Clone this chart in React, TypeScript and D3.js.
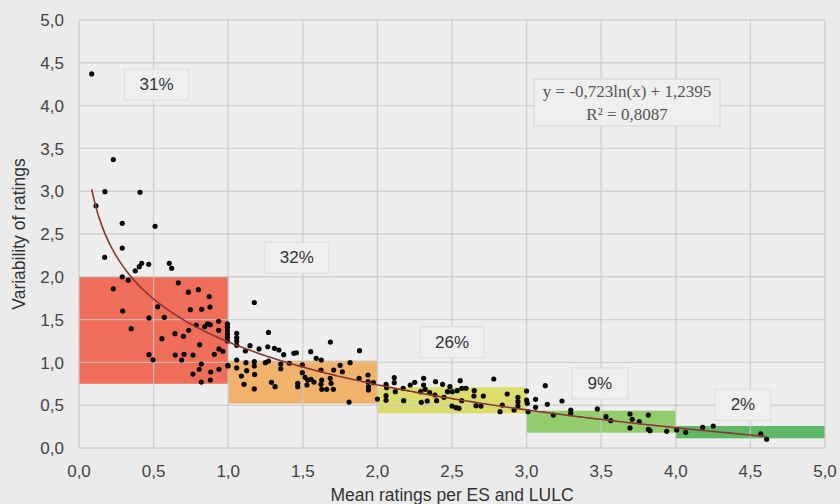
import React from "react";
import * as d3 from "d3";

// ---------- data ----------
const xTicks = [0, 0.5, 1, 1.5, 2, 2.5, 3, 3.5, 4, 4.5, 5];
const yTicks = [0, 0.5, 1, 1.5, 2, 2.5, 3, 3.5, 4, 4.5, 5];

// classes (mean-rating bands) and their variability ranges
const bandFrom = [0, 1, 2, 3, 4];
const bandTo = [1, 2, 3, 4, 5];
const bandLow = [0.75, 0.52, 0.405, 0.18, 0.113];
const bandHigh = [2.0, 1.02, 0.71, 0.436, 0.257];
const bandShare = ["31%", "32%", "26%", "9%", "2%"];
// label anchor (data units)
const shareX = [0.52, 1.46, 2.50, 3.49, 4.45];
const shareY = [4.25, 2.23, 1.24, 0.76, 0.51];

// scatter: mean rating (x) / variability (y)
const points: [number, number][] = [
  [0.085, 4.37], [0.174, 2.995], [0.409, 2.987], [0.114, 2.83], [0.23, 3.37],
  [0.29, 2.625], [0.51, 2.59], [0.29, 2.336], [0.172, 2.228], [0.42, 2.158],
  [0.404, 2.118], [0.467, 2.146], [0.377, 2.07], [0.605, 2.158], [0.621, 2.1],
  [0.29, 2.0], [0.33, 1.96], [0.23, 1.86], [0.666, 1.93], [0.8, 1.85],
  [0.733, 1.82], [0.873, 1.77], [0.293, 1.6], [0.527, 1.65], [0.572, 1.527],
  [0.469, 1.52], [0.746, 1.616], [0.822, 1.62], [0.878, 1.647], [0.936, 1.48],
  [0.786, 1.437], [0.842, 1.417], [0.862, 1.449], [0.88, 1.44], [0.936, 1.375],
  [0.35, 1.394], [0.735, 1.375], [0.643, 1.335], [0.7, 1.305], [0.556, 1.277],
  [0.809, 1.207], [0.938, 1.157], [0.965, 1.13], [0.469, 1.09], [0.496, 1.03],
  [0.645, 1.086], [0.704, 1.094], [0.688, 1.028], [0.764, 1.086], [0.907, 1.094],
  [0.82, 0.98], [0.806, 0.92], [0.938, 0.92], [0.997, 0.966], [0.764, 0.864],
  [0.883, 0.888], [0.82, 0.77], [0.88, 0.794],
  [0.995, 1.45], [0.995, 1.41], [0.995, 1.37], [0.995, 1.33], [0.995, 1.29], [0.995, 1.25],
  [1.057, 1.34], [1.057, 1.29], [1.057, 1.25], [1.057, 1.2],
  [1.175, 1.7], [1.27, 1.35], [1.146, 1.195], [1.115, 1.133], [1.207, 1.157],
  [1.265, 1.183], [1.31, 1.165], [1.34, 1.145], [1.372, 1.09], [1.44, 1.106],
  [1.457, 1.113], [1.553, 1.125], [1.685, 1.238], [1.88, 1.137], [1.59, 1.048],
  [1.624, 1.028], [0.999, 0.958], [1.057, 1.028], [1.057, 0.935], [1.119, 0.997],
  [1.175, 1.008], [1.175, 0.958], [1.124, 0.903], [1.088, 0.84], [1.177, 0.86],
  [1.106, 0.744], [1.175, 0.69], [1.249, 0.997], [1.27, 1.016], [1.352, 0.98],
  [1.352, 0.926], [1.41, 0.99], [1.29, 0.767], [1.314, 0.716], [1.466, 0.756],
  [1.466, 0.716], [1.497, 0.97], [1.497, 0.88], [1.515, 0.826], [1.533, 0.794],
  [1.555, 0.803], [1.528, 0.736], [1.575, 0.77], [1.622, 0.91], [1.627, 0.794],
  [1.622, 0.744], [1.627, 0.686], [1.66, 0.686], [1.684, 0.814], [1.69, 0.756],
  [1.705, 0.686], [1.707, 0.91], [1.75, 0.966], [1.765, 0.89], [1.817, 0.997],
  [1.81, 0.537], [1.877, 0.814], [1.937, 0.853], [1.937, 0.775], [1.94, 0.716],
  [1.94, 0.678], [1.973, 0.763], [2.0, 0.572],
  [2.058, 0.744], [2.062, 0.705], [2.058, 0.611], [2.058, 0.557], [2.113, 0.821],
  [2.113, 0.763], [2.12, 0.658], [2.173, 0.697], [2.176, 0.553], [2.22, 0.736],
  [2.25, 0.767], [2.29, 0.658], [2.294, 0.534], [2.31, 0.814], [2.31, 0.736],
  [2.32, 0.686], [2.35, 0.646], [2.334, 0.549], [2.39, 0.775], [2.386, 0.619],
  [2.397, 0.553], [2.437, 0.744], [2.446, 0.592], [2.47, 0.658], [2.486, 0.716],
  [2.502, 0.658], [2.5, 0.49], [2.527, 0.471], [2.547, 0.463], [2.535, 0.67],
  [2.555, 0.786], [2.566, 0.697], [2.594, 0.697], [2.565, 0.553], [2.649, 0.67],
  [2.647, 0.607], [2.661, 0.494], [2.694, 0.49], [2.71, 0.607], [2.78, 0.806],
  [2.87, 0.631], [2.837, 0.502], [2.822, 0.424], [2.916, 0.444], [2.942, 0.592],
  [2.942, 0.541], [2.942, 0.49], [3.0, 0.666], [3.0, 0.56], [3.005, 0.522],
  [3.01, 0.424],
  [3.125, 0.728], [3.06, 0.569], [3.06, 0.475], [3.139, 0.51], [3.237, 0.549],
  [3.179, 0.385], [3.296, 0.444], [3.296, 0.405], [3.474, 0.456], [3.532, 0.366],
  [3.564, 0.319], [3.693, 0.397], [3.708, 0.335], [3.693, 0.234], [3.755, 0.307],
  [3.816, 0.385], [3.816, 0.218], [3.827, 0.202], [3.939, 0.195], [4.006, 0.21],
  [4.066, 0.183], [4.18, 0.242], [4.251, 0.257], [4.569, 0.164], [4.609, 0.102],
];

// logarithmic trend: y = a ln(x) + b
const trendA = -0.723;
const trendB = 1.2395;
const trendRange = [0.085, 4.6];
const equationLines = ["y = -0,723ln(x) + 1,2395", "R² = 0,8087"];

const xTitle = "Mean ratings per ES and LULC";
const yTitle = "Variability of ratings";

// ---------- styles ----------
const bandColors = ["#ee6e5a", "#f1b36c", "#dcdd6d", "#93cc6c", "#5fb865"];
const W = 840;
const H = 504;
const M = { left: 79, right: 15, top: 20, bottom: 56 };
const fmt = (v: number) => v.toFixed(1).replace(".", ",");
const SANS = "Liberation Sans, Arial, sans-serif";

export default function App() {
  const x = d3.scaleLinear().domain([0, 5]).range([M.left, W - M.right]);
  const y = d3.scaleLinear().domain([0, 5]).range([H - M.bottom, M.top]);

  const trendPts = d3.range(0, 201).map((i) => {
    const xv = trendRange[0] + ((trendRange[1] - trendRange[0]) * i) / 200;
    return [xv, trendA * Math.log(xv) + trendB] as [number, number];
  });
  const line = d3
    .line<[number, number]>()
    .x((d) => x(d[0]))
    .y((d) => y(d[1]))
    .curve(d3.curveLinear);

  return (
    <div style={{ position: "fixed", left: 0, top: 0 }}>
      <svg width={W} height={H} style={{ display: "block", background: "#ececec" }}>
        <rect x={0} y={0} width={W} height={H} fill="#ebebeb" />
        <rect
          x={x(0)}
          y={y(5)}
          width={x(5) - x(0)}
          height={y(0) - y(5)}
          fill="#eeeeee"
        />
        {/* bands */}
        {bandFrom.map((f, i) => (
          <rect
            key={"b" + i}
            x={x(f)}
            y={y(bandHigh[i])}
            width={x(bandTo[i]) - x(f)}
            height={y(bandLow[i]) - y(bandHigh[i])}
            fill={bandColors[i]}
          />
        ))}
        {/* grid */}
        {yTicks.map((t) => (
          <line
            key={"gy" + t}
            x1={x(0)}
            x2={x(5)}
            y1={y(t)}
            y2={y(t)}
            stroke="rgba(200,200,200,0.75)"
            strokeWidth={1.4}
          />
        ))}
        {xTicks.map((t) => (
          <line
            key={"gx" + t}
            x1={x(t)}
            x2={x(t)}
            y1={y(0)}
            y2={y(5)}
            stroke="rgba(200,200,200,0.75)"
            strokeWidth={1.4}
          />
        ))}
        {/* tick labels */}
        {yTicks.map((t) => (
          <text
            key={"ty" + t}
            x={x(0) - 15}
            y={y(t)}
            dy="0.36em"
            textAnchor="end"
            fontFamily={SANS}
            fontSize={17}
            fill="#444"
          >
            {fmt(t)}
          </text>
        ))}
        {xTicks.map((t) => (
          <text
            key={"tx" + t}
            x={x(t)}
            y={y(0) + 29}
            textAnchor="middle"
            fontFamily={SANS}
            fontSize={17}
            fill="#444"
          >
            {fmt(t)}
          </text>
        ))}
        {/* axis titles */}
        <text
          x={(x(0) + x(5)) / 2}
          y={H - 3}
          textAnchor="middle"
          fontFamily={SANS}
          fontSize={17.5}
          fill="#333"
        >
          {xTitle}
        </text>
        <text
          transform={`translate(25,${(y(0) + y(5)) / 2}) rotate(-90)`}
          textAnchor="middle"
          fontFamily={SANS}
          fontSize={17.5}
          fill="#333"
        >
          {yTitle}
        </text>
        {/* share labels */}
        {bandShare.map((s, i) => (
          <g key={"s" + i} transform={`translate(${x(shareX[i])},${y(shareY[i])})`}>
            <rect
              x={s.length > 2 ? -32 : -28}
              y={-15}
              width={s.length > 2 ? 64 : 56}
              height={31}
              fill="#efefef"
              stroke="#dedede"
              strokeWidth={1}
            />
            <text
              textAnchor="middle"
              dy="0.36em"
              fontFamily={SANS}
              fontSize={17}
              fill="#333"
            >
              {s}
            </text>
          </g>
        ))}
        {/* equation */}
        <rect x={534} y={79} width={186} height={47} fill="#efefef" stroke="#d6d6d6" />
        {equationLines.map((l, i) => (
          <text
            key={"eq" + i}
            x={627}
            y={97 + i * 23}
            textAnchor="middle"
            fontFamily="Liberation Serif, Times New Roman, serif"
            fontSize={17}
            fill="#555"
          >
            {l}
          </text>
        ))}
        {/* points */}
        {points.map((p, i) => (
          <circle key={"p" + i} cx={x(p[0])} cy={y(p[1])} r={2.6} fill="#0a0a0a" />
        ))}
        {/* trend */}
        <path d={line(trendPts) || ""} fill="none" stroke="#8c3434" strokeWidth={1.6} />
      </svg>
    </div>
  );
}
